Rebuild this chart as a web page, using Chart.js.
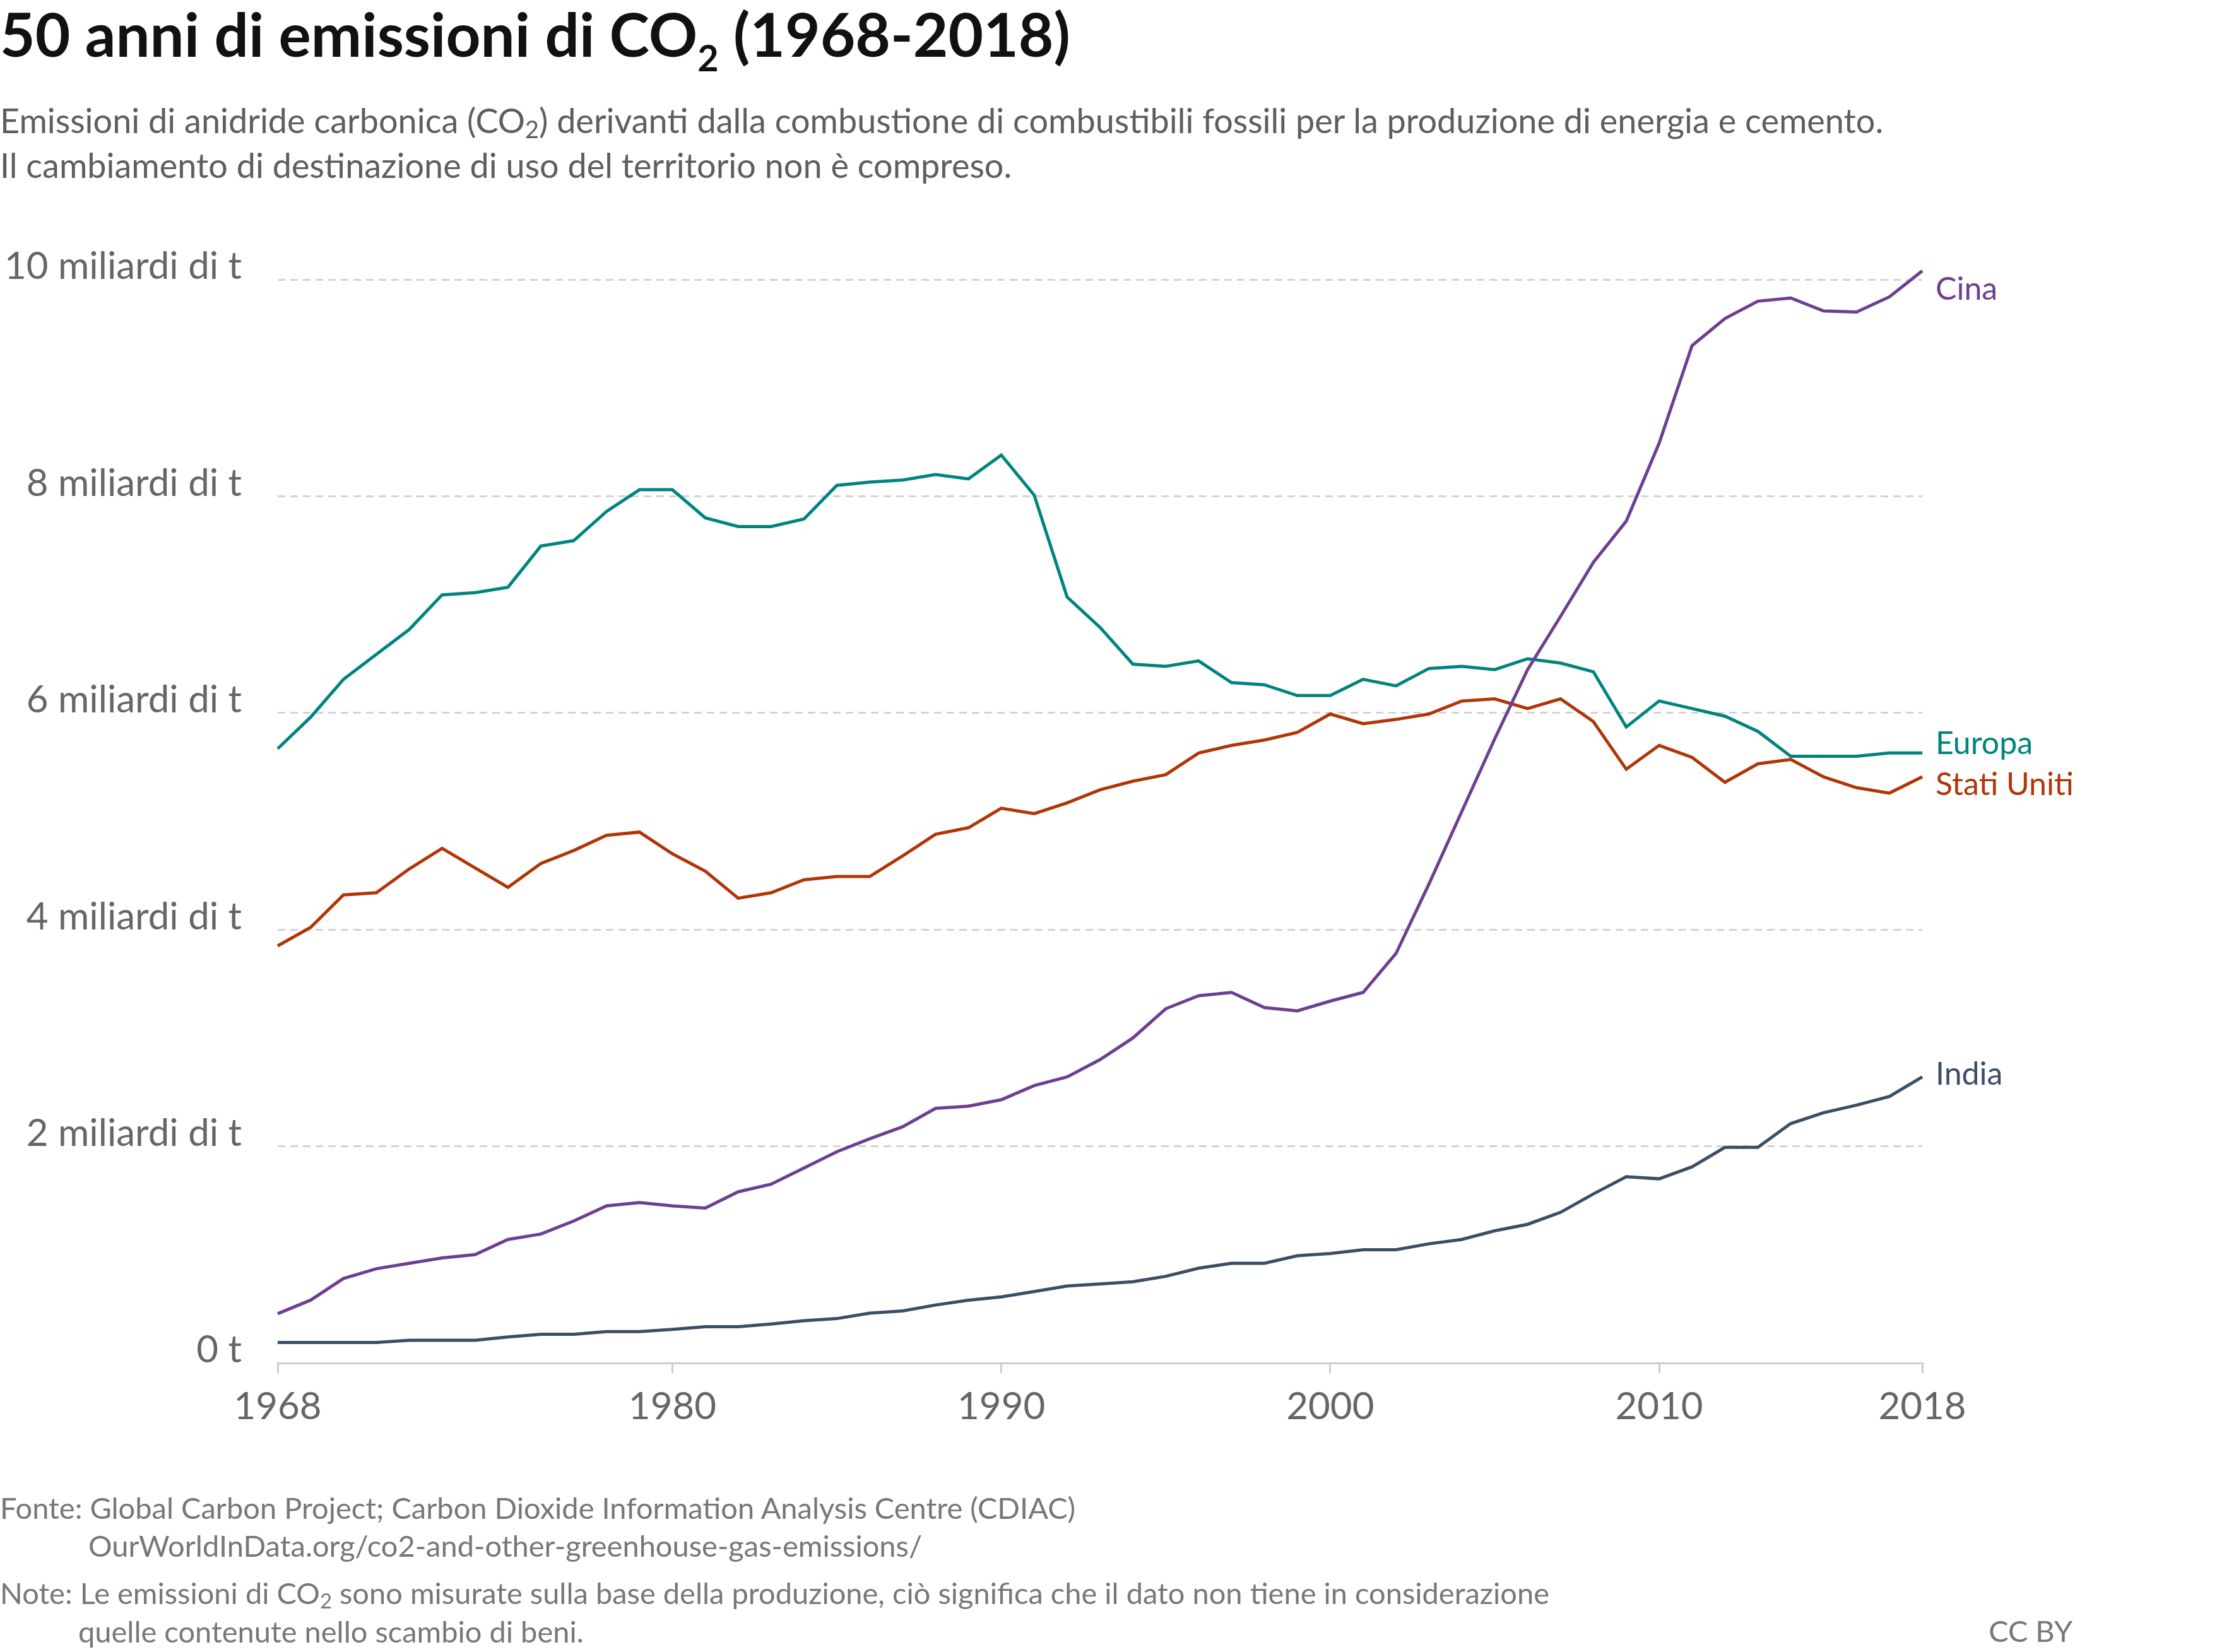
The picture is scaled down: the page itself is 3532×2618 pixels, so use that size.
<!DOCTYPE html>
<html>
<head>
<meta charset="utf-8">
<title>50 anni di emissioni di CO2</title>
<script src="https://cdn.jsdelivr.net/npm/chart.js@4.4.0/dist/chart.umd.min.js"></script>
<style>
  html, body { margin: 0; padding: 0; background: #fff; }
  body { width: 3532px; height: 2618px; position: relative; overflow: hidden; font-family: Lato, "Noto Sans", sans-serif; }
  #myChart { position: absolute; left: 0; top: 0; }
  .txt { position: absolute; white-space: nowrap; line-height: 1.2; }
  #title { left: 0; top: -5px; font-size: 96px; font-weight: 700; color: #111; }
  #title sub { font-size: 0.6em; vertical-align: -0.4em; line-height: 0; }
  #subtitle { left: 0; top: 155px; font-size: 54px; line-height: 71.4px; color: #5e5e5e; }
  .foot { font-size: 47px; color: #777; }
  .txt sub { font-size: 0.7em; vertical-align: -0.2em; line-height: 0; }
</style>
</head>
<body>
<canvas id="myChart" width="3532" height="2618"></canvas>

<div class="txt" id="title">50 anni di emissioni di CO<sub>2</sub> (1968-2018)</div>
<div class="txt" id="subtitle">Emissioni di anidride carbonica (CO<sub>2</sub>) derivanti dalla combustione di combustibili fossili per la produzione di energia e cemento.<br>Il cambiamento di destinazione di uso del territorio non è compreso.</div>

<div class="txt foot" style="left:0; top:2361px;">Fonte: Global Carbon Project; Carbon Dioxide Information Analysis Centre (CDIAC)</div>
<div class="txt foot" style="left:140px; top:2421px;">OurWorldInData.org/co2-and-other-greenhouse-gas-emissions/</div>
<div class="txt foot" style="left:0; top:2496px;">Note: Le emissioni di CO<sub>2</sub> sono misurate sulla base della produzione, ciò significa che il dato non tiene in considerazione</div>
<div class="txt foot" style="left:124px; top:2557px;">quelle contenute nello scambio di beni.</div>
<div class="txt foot" style="right:248px; top:2556px;">CC BY</div>

<script>
// Data (billions of tonnes of CO2)
var years = [1968, 1969, 1970, 1971, 1972, 1973, 1974, 1975, 1976, 1977,
             1978, 1979, 1980, 1981, 1982, 1983, 1984, 1985, 1986, 1987,
             1988, 1989, 1990, 1991, 1992, 1993, 1994, 1995, 1996, 1997,
             1998, 1999, 2000, 2001, 2002, 2003, 2004, 2005, 2006, 2007,
             2008, 2009, 2010, 2011, 2012, 2013, 2014, 2015, 2016, 2017, 2018];

var cina = [0.455, 0.58, 0.78, 0.87, 0.92, 0.97, 1.00, 1.14, 1.19, 1.31,
            1.45, 1.48, 1.45, 1.43, 1.58, 1.65, 1.80, 1.95, 2.07, 2.18,
            2.35, 2.37, 2.43, 2.56, 2.64, 2.80, 3.00, 3.27, 3.39, 3.42,
            3.28, 3.25, 3.34, 3.42, 3.78, 4.42, 5.09, 5.76, 6.40, 6.89,
            7.39, 7.77, 8.49, 9.39, 9.64, 9.80, 9.83, 9.71, 9.70, 9.84, 10.08];

var europa = [5.67, 5.96, 6.31, 6.54, 6.77, 7.09, 7.11, 7.16, 7.54, 7.59,
              7.86, 8.06, 8.06, 7.80, 7.72, 7.72, 7.79, 8.10, 8.13, 8.15,
              8.20, 8.16, 8.38, 8.01, 7.07, 6.79, 6.45, 6.43, 6.48, 6.28,
              6.26, 6.16, 6.16, 6.31, 6.25, 6.41, 6.43, 6.40, 6.50, 6.46,
              6.38, 5.87, 6.11, 6.04, 5.97, 5.83, 5.60, 5.60, 5.60, 5.63, 5.63];

var statiUniti = [3.85, 4.02, 4.32, 4.34, 4.56, 4.75, 4.57, 4.39, 4.61, 4.73,
                  4.87, 4.90, 4.70, 4.54, 4.29, 4.34, 4.46, 4.49, 4.49, 4.68,
                  4.88, 4.94, 5.12, 5.07, 5.17, 5.29, 5.37, 5.43, 5.63, 5.70,
                  5.75, 5.82, 5.99, 5.90, 5.94, 5.99, 6.11, 6.13, 6.04, 6.13,
                  5.92, 5.48, 5.70, 5.59, 5.36, 5.53, 5.57, 5.41, 5.31, 5.26, 5.41];

var india = [0.19, 0.19, 0.19, 0.19, 0.21, 0.21, 0.21, 0.24, 0.265, 0.265,
             0.29, 0.29, 0.31, 0.335, 0.335, 0.36, 0.39, 0.41, 0.46, 0.48,
             0.535, 0.58, 0.61, 0.66, 0.71, 0.73, 0.75, 0.80, 0.875, 0.92,
             0.92, 0.99, 1.01, 1.045, 1.045, 1.10, 1.14, 1.22, 1.28, 1.39,
             1.56, 1.72, 1.70, 1.81, 1.99, 1.99, 2.21, 2.31, 2.38, 2.46, 2.64];

var xTicks = [1968, 1980, 1990, 2000, 2010, 2018];
var yTicks = [0, 2, 4, 6, 8, 10];

// Pair each year with its value
function toPoints(values) {
    return years.map(function(y, i) {
        return { x: y, y: values[i] };
    });
}

function makeSeries(label, values, color, nudge) {
    return {
        label: label,
        data: toPoints(values),
        borderColor: color,
        backgroundColor: color,
        borderWidth: 5,
        pointRadius: 0,
        tension: 0,
        clip: false,
        labelNudge: nudge
    };
}

// Draws the series names at the end of each line
var endLabels = {
    id: 'endLabels',
    afterDatasetsDraw: function(chart) {
        var ctx = chart.ctx;
        ctx.save();
        ctx.font = '50px Lato, "Noto Sans", sans-serif';
        ctx.textAlign = 'left';
        ctx.textBaseline = 'middle';
        chart.data.datasets.forEach(function(ds, i) {
            var meta = chart.getDatasetMeta(i);
            var last = meta.data[meta.data.length - 1];
            ctx.fillStyle = ds.borderColor;
            ctx.fillText(ds.label, last.x + 21, last.y + ds.labelNudge);
        });
        ctx.restore();
    }
};

var ctx = document.getElementById('myChart').getContext('2d');
var myChart = new Chart(ctx, {
    type: 'line',
    data: {
        datasets: [
            makeSeries('Cina', cina, '#6D3E91', 30),
            makeSeries('Europa', europa, '#00847E', -14),
            makeSeries('Stati Uniti', statiUniti, '#B13507', 13),
            makeSeries('India', india, '#3C4E66', -4)
        ]
    },
    options: {
        responsive: false,
        devicePixelRatio: 1,
        animation: false,
        layout: {
            padding: { left: 0, top: 443, right: 486, bottom: 338 }
        },
        plugins: {
            legend: { display: false },
            tooltip: { enabled: false }
        },
        scales: {
            x: {
                type: 'linear',
                min: 1968,
                max: 2018,
                afterBuildTicks: function(axis) {
                    axis.ticks = xTicks.map(function(v) { return { value: v }; });
                },
                afterFit: function(axis) {
                    axis.height = 120;
                },
                grid: {
                    drawOnChartArea: false,
                    drawTicks: true,
                    tickLength: 16,
                    color: '#cccccc',
                    lineWidth: 3
                },
                border: { display: true, color: '#cccccc', width: 3 },
                ticks: {
                    autoSkip: false,
                    maxRotation: 0,
                    padding: 18,
                    color: '#666666',
                    font: { family: 'Lato', size: 60 },
                    callback: function(value) { return String(value); }
                }
            },
            y: {
                min: 0,
                max: 10,
                afterBuildTicks: function(axis) {
                    axis.ticks = yTicks.map(function(v) { return { value: v }; });
                },
                afterFit: function(axis) {
                    axis.width = 440;
                },
                grid: {
                    drawTicks: false,
                    lineWidth: 3,
                    color: function(c) {
                        return c.tick && c.tick.value === 0 ? 'rgba(0,0,0,0)' : '#d4d4d4';
                    }
                },
                border: { display: false, dash: [12, 8] },
                ticks: {
                    padding: 57,
                    labelOffset: -20,
                    color: '#666666',
                    font: { family: 'Lato', size: 60 },
                    callback: function(value) {
                        return value === 0 ? '0 t' : value + ' miliardi di t';
                    }
                }
            }
        }
    },
    plugins: [endLabels]
});
</script>
</body>
</html>
